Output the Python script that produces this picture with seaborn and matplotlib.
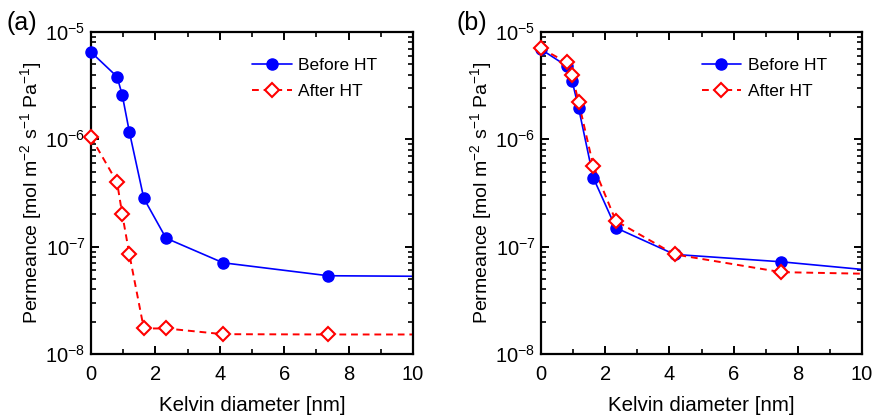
import matplotlib
matplotlib.use("Agg")
import matplotlib.pyplot as plt
import matplotlib.ticker as mticker
from matplotlib.legend_handler import HandlerTuple
import seaborn as sns
import numpy as np

# ---------------- data ----------------
kelvin_a = [0.0, 0.81, 0.97, 1.19, 1.64, 2.33, 4.10, 7.36]
before_a = [6.5e-6, 3.83e-6, 2.59e-6, 1.18e-6, 2.82e-7, 1.20e-7, 7.08e-8, 5.36e-8]
after_a = [1.05e-6, 3.97e-7, 2.01e-7, 8.53e-8, 1.73e-8, 1.73e-8, 1.53e-8, 1.52e-8]

kelvin_b = [0.0, 0.80, 0.97, 1.17, 1.63, 2.33, 4.16, 7.48]
before_b = [6.9e-6, 4.82e-6, 3.49e-6, 1.97e-6, 4.38e-7, 1.50e-7, 8.47e-8, 7.23e-8]
after_b = [7.05e-6, 5.21e-6, 3.95e-6, 2.24e-6, 5.64e-7, 1.74e-7, 8.47e-8, 5.79e-8]

# values where the curves leave the frame at x = 10 nm
edge_x = 10.0
before_a_edge = 5.3e-8
after_a_edge = 1.52e-8
before_b_edge = 6.14e-8
after_b_edge = 5.6e-8

x_ticks = [0, 2, 4, 6, 8, 10]
panel_labels = ["(a)", "(b)"]
series_labels = ["Before HT", "After HT"]
x_label = "Kelvin diameter [nm]"
y_label = "Permeance [mol m$^{-2}$ s$^{-1}$ Pa$^{-1}$]"

# ---------------- style ----------------
sns.set_style("ticks")
plt.rcParams["font.family"] = ["Liberation Sans", "DejaVu Sans"]
plt.rcParams["mathtext.fontset"] = "custom"
plt.rcParams["mathtext.rm"] = "Liberation Sans"
plt.rcParams["mathtext.default"] = "regular"
plt.rcParams["axes.unicode_minus"] = False
for k in ["text.color", "axes.labelcolor", "xtick.color", "ytick.color", "axes.edgecolor"]:
    plt.rcParams[k] = "black"

BLUE = "#0000FF"
RED = "#FF0000"
FS = 14.5

fig = plt.figure(figsize=(8.75, 4.18), dpi=100)
W, H = 875, 418
ax_a = fig.add_axes([91 / W, (H - 354) / H, 322 / W, 322 / H])
ax_b = fig.add_axes([541 / W, (H - 354) / H, 321 / W, 322 / H])

panels = [
    (ax_a, kelvin_a, before_a, after_a, before_a_edge, after_a_edge),
    (ax_b, kelvin_b, before_b, after_b, before_b_edge, after_b_edge),
]

for ax, kx, bef, aft, bef_e, aft_e in panels:
    # lines (extend to the frame edge)
    sns.lineplot(x=list(kx) + [edge_x], y=list(bef) + [bef_e], ax=ax, sort=False,
                 color=BLUE, linewidth=1.2, clip_on=False, legend=False)
    sns.lineplot(x=list(kx) + [edge_x], y=list(aft) + [aft_e], ax=ax, sort=False,
                 color=RED, linewidth=1.4, linestyle=(0, (3.5, 2.5)), clip_on=False,
                 legend=False)
    l_bef, l_aft = ax.lines[0], ax.lines[1]
    # markers (measured points only)
    sns.lineplot(x=kx, y=bef, ax=ax, sort=False, color=BLUE, linestyle="none",
                 marker="o", markersize=8, markeredgecolor=BLUE, markerfacecolor=BLUE,
                 markeredgewidth=1, clip_on=False, zorder=4, legend=False)
    sns.lineplot(x=kx, y=aft, ax=ax, sort=False, color=RED, linestyle="none",
                 marker="D", markersize=7, markeredgecolor=RED, markerfacecolor="white",
                 markeredgewidth=1.5, clip_on=False, zorder=5, legend=False)
    m_bef, m_aft = ax.lines[2], ax.lines[3]

    ax.set_yscale("log")
    ax.set_xlim(0, 10)
    ax.set_ylim(1e-8, 1e-5)
    ax.set_xticks(x_ticks)
    ax.xaxis.set_minor_locator(mticker.MultipleLocator(1))
    ax.yaxis.set_major_locator(mticker.LogLocator(base=10, numticks=10))
    ax.yaxis.set_minor_locator(mticker.LogLocator(base=10, subs=np.arange(2, 10), numticks=20))
    ax.yaxis.set_minor_formatter(mticker.NullFormatter())

    for sp in ax.spines.values():
        sp.set_linewidth(1.6)
        sp.set_color("black")
        sp.set_visible(True)
    ax.tick_params(which="both", direction="in", top=True, right=True,
                   colors="black", labelsize=FS)
    ax.tick_params(which="major", length=6, width=1.4)
    ax.tick_params(which="minor", length=3.5, width=1.2)
    ax.tick_params(axis="x", which="major", pad=8)
    ax.tick_params(axis="y", which="major", pad=4)

    ax.set_xlabel(x_label, fontsize=14.8, labelpad=8.5)
    ax.set_ylabel(y_label, fontsize=14, labelpad=1)

    ax.legend([(l_bef, m_bef), (l_aft, m_aft)], series_labels,
              handler_map={tuple: HandlerTuple(ndivide=1, pad=0)},
              loc="upper left", bbox_to_anchor=(0.5, 0.92), frameon=False,
              fontsize=12.5, handlelength=2.3, handletextpad=0.35, labelspacing=0.62,
              borderpad=0, borderaxespad=0)

fig.text(7 / W, 1 - 23 / H, panel_labels[0], fontsize=18, va="center", ha="left")
fig.text(456 / W, 1 - 23 / H, panel_labels[1], fontsize=18, va="center", ha="left")

fig.savefig("out.png", dpi=100)
